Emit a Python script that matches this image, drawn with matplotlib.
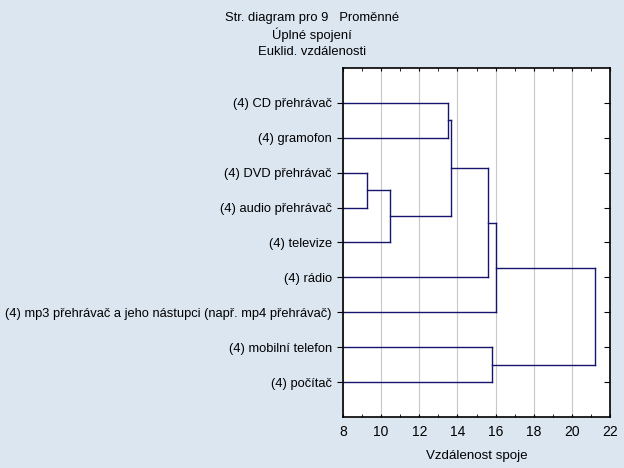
import numpy as np
import matplotlib.pyplot as plt

plt.rcParams['font.family'] = ['Liberation Sans', 'DejaVu Sans']

labels = ['(4) CD přehrávač', '(4) gramofon', '(4) DVD přehrávač',
          '(4) audio přehrávač', '(4) televize', '(4) rádio',
          '(4) mp3 přehrávač a jeho nástupci (např. mp4 přehrávač)',
          '(4) mobilní telefon', '(4) počítač']

# merges: (left cluster, right cluster, distance); leaves are 0..8, new clusters 9..
merges = [
    (2, 3, 9.28),
    (0, 1, 13.52),
    (9, 4, 10.48),
    (10, 11, 13.68),
    (12, 5, 15.62),
    (13, 6, 16.04),
    (7, 8, 15.80),
    (14, 15, 21.23),
]

line_color = '#15156e'
bg = '#dce6f1'

fig = plt.figure(figsize=(6.24, 4.68), dpi=100, facecolor=bg)
ax = fig.add_axes([0.5497, 0.109, 0.428, 0.7457])
ax.set_facecolor('white')

xmin = 8
pos = {i: i + 1 for i in range(len(labels))}
height = {i: xmin for i in range(len(labels))}
n = len(labels)
for k, (a, b, d) in enumerate(merges):
    for c in (a, b):
        ax.plot([height[c], d], [pos[c], pos[c]], color=line_color, lw=1)
    ax.plot([d, d], [pos[a], pos[b]], color=line_color, lw=1)
    pos[n + k] = (pos[a] + pos[b]) / 2
    height[n + k] = d

ax.set_xlim(8, 22)
ax.set_ylim(10, 0)
ax.set_xticks(np.arange(8, 23, 2))
ax.set_xticks(np.arange(8, 23, 1), minor=True)
ax.set_yticks(np.arange(1, n + 1))
ax.set_yticklabels(labels)
ax.grid(axis='x', color='#c8c8c8', lw=0.8)
ax.set_axisbelow(True)
ax.tick_params(axis='x', which='both', direction='in', top=True, length=2,
               labelsize=10, pad=6)
ax.tick_params(axis='y', which='major', direction='out', left=True, length=4,
               labelsize=9.25, pad=4)
ax.tick_params(axis='y', which='major', right=True)
for t in ax.yaxis.get_ticklines()[1::2]:
    t.set_marker(0)
for s in ax.spines.values():
    s.set_linewidth(1.2)
ax.set_xlabel('Vzdálenost spoje', fontsize=9.6, labelpad=8)

fig.text(0.5, 0.962, 'Str. diagram pro 9   Proměnné', ha='center', va='center', fontsize=9.4)
fig.text(0.5, 0.925, 'Úplné spojení', ha='center', va='center', fontsize=9.4)
fig.text(0.5, 0.888, 'Euklid. vzdálenosti', ha='center', va='center', fontsize=9.4)

fig.savefig('out.png', dpi=100, facecolor=bg)
